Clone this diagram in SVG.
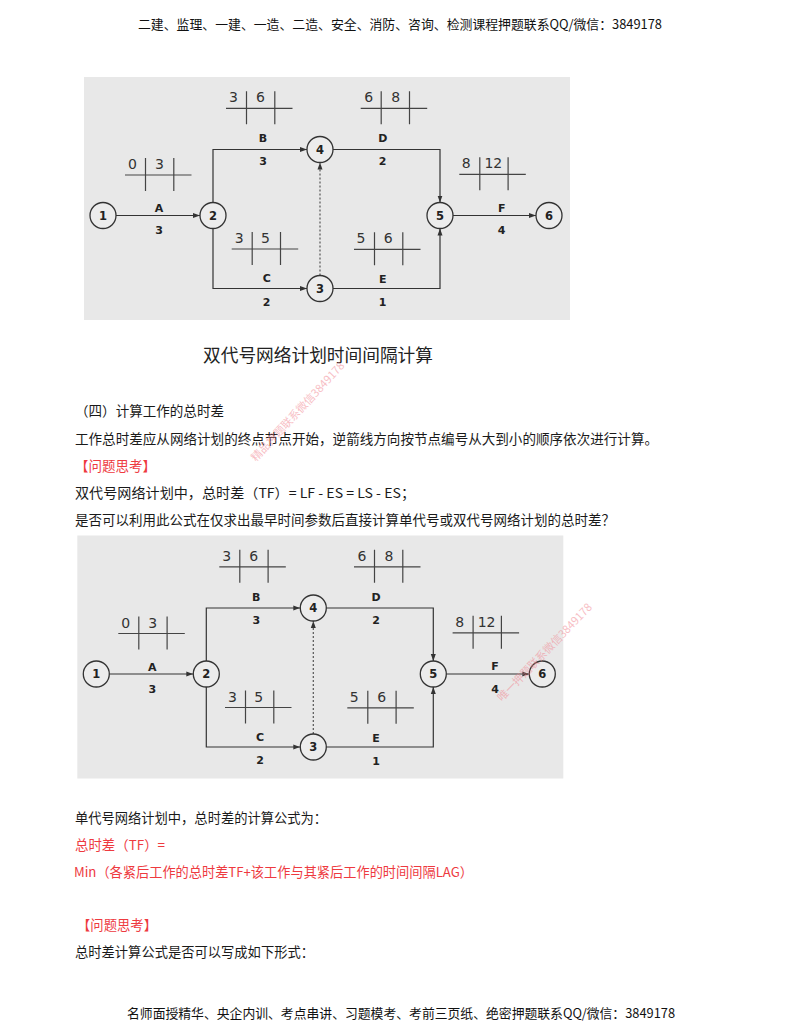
<svg xmlns="http://www.w3.org/2000/svg" xmlns:xlink="http://www.w3.org/1999/xlink" width="800" height="1035" viewBox="0 0 800 1035">
<style>
.hdr{font-family:"Noto Sans CJK SC","Noto Sans",sans-serif;font-size:13px;fill:#111}
.body{font-family:"Noto Sans CJK SC","Noto Sans",sans-serif;font-size:13.5px;fill:#1a1a1a}
.red{font-family:"Noto Sans CJK SC","Noto Sans",sans-serif;font-size:13.5px;fill:#ee3a3f}
.cap{font-family:"Noto Sans CJK SC","Noto Sans",sans-serif;font-size:17.7px;fill:#222}
.bg{fill:#e8e8e8}
.conn{fill:none;stroke:#333;stroke-width:1.2}
.dash{fill:none;stroke:#555;stroke-width:1.2;stroke-dasharray:2 2}
.node circle{fill:#ececec;stroke:#333;stroke-width:1.3}
.node text{font-family:"DejaVu Sans",sans-serif;font-weight:bold;font-size:11.5px;fill:#222;text-anchor:middle}
.lbl{font-family:"DejaVu Sans",sans-serif;font-weight:bold;font-size:11px;fill:#222;text-anchor:middle}
.tb{fill:none;stroke:#444;stroke-width:1.2}
.tn{font-family:"DejaVu Sans",sans-serif;font-size:14px;fill:#333;text-anchor:middle}
.wm{font-family:"Noto Sans CJK SC",sans-serif;font-size:11px;fill:#f28a94;opacity:0.55}
</style>
<defs>
<marker id="arr" markerUnits="userSpaceOnUse" markerWidth="7" markerHeight="6" refX="7" refY="3" orient="auto">
<path d="M0,0.5 L7,3 L0,5.5 z" fill="#333"/>
</marker>
<path id="tbx" class="tb" d="M0,0 H66.5 M20.5,-17 V16 M48.8,-17 V16"/>
</defs>

<text class="hdr" x="400" y="29" text-anchor="middle" textLength="524" lengthAdjust="spacingAndGlyphs">二建、监理、一建、一造、二造、安全、消防、咨询、检测课程押题联系QQ/微信：3849178</text>

<g id="network1">
<rect class="bg" x="84" y="77" width="486" height="243"/>
<g id="n1-connectors">
<path class="conn" d="M116,215.5 H200" marker-end="url(#arr)"/>
<path class="conn" d="M213,202.5 V149.5 H307" marker-end="url(#arr)"/>
<path class="conn" d="M213,228.5 V288.5 H307" marker-end="url(#arr)"/>
<path class="dash" d="M320,275.5 V162.5" marker-end="url(#arr)"/>
<path class="conn" d="M333,149.5 H440 V202.5" marker-end="url(#arr)"/>
<path class="conn" d="M333,288.5 H440 V228.5" marker-end="url(#arr)"/>
<path class="conn" d="M453,215.5 H536" marker-end="url(#arr)"/>
</g>
<g id="n1-labels">
<text class="lbl" x="159" y="212">A</text><text class="lbl" x="159" y="234">3</text>
<text class="lbl" x="263" y="142.3">B</text><text class="lbl" x="263" y="165">3</text>
<text class="lbl" x="266.7" y="282.3">C</text><text class="lbl" x="266.7" y="305.7">2</text>
<text class="lbl" x="382.7" y="142.3">D</text><text class="lbl" x="382.7" y="165">2</text>
<text class="lbl" x="382.7" y="283">E</text><text class="lbl" x="382.7" y="306">1</text>
<text class="lbl" x="501.7" y="211.7">F</text><text class="lbl" x="501.7" y="234">4</text>
</g>
<g id="n1-times">
<use xlink:href="#tbx" href="#tbx" x="125" y="175"/><text class="tn" x="132.5" y="169">0</text><text class="tn" x="159.5" y="169">3</text>
<use xlink:href="#tbx" href="#tbx" x="226" y="108.3"/><text class="tn" x="233.5" y="102.3">3</text><text class="tn" x="260.5" y="102.3">6</text>
<use xlink:href="#tbx" href="#tbx" x="231.7" y="249"/><text class="tn" x="239.2" y="243">3</text><text class="tn" x="265.5" y="243">5</text>
<use xlink:href="#tbx" href="#tbx" x="360.7" y="108.3"/><text class="tn" x="368.7" y="102.3">6</text><text class="tn" x="395.7" y="102.3">8</text>
<use xlink:href="#tbx" href="#tbx" x="354" y="249.3"/><text class="tn" x="361" y="243.3">5</text><text class="tn" x="388.3" y="243.3">6</text>
<use xlink:href="#tbx" href="#tbx" x="459.3" y="174.3"/><text class="tn" x="466.3" y="168.3">8</text><text class="tn" x="493.3" y="168.3">12</text>
</g>
<g id="n1-node1" class="node"><circle cx="103" cy="215.5" r="13"/><text x="103" y="219.8">1</text></g>
<g id="n1-node2" class="node"><circle cx="213" cy="215.5" r="13"/><text x="213" y="219.8">2</text></g>
<g id="n1-node4" class="node"><circle cx="320" cy="149.5" r="13"/><text x="320" y="153.8">4</text></g>
<g id="n1-node3" class="node"><circle cx="320" cy="288.5" r="13"/><text x="320" y="292.8">3</text></g>
<g id="n1-node5" class="node"><circle cx="440" cy="215.5" r="13"/><text x="440" y="219.8">5</text></g>
<g id="n1-node6" class="node"><circle cx="549" cy="215.5" r="13"/><text x="549" y="219.8">6</text></g>
</g>

<text class="cap" x="203" y="362" textLength="230" lengthAdjust="spacingAndGlyphs">双代号网络计划时间间隔计算</text>

<text class="body" x="75" y="416" textLength="149" lengthAdjust="spacingAndGlyphs">（四）计算工作的总时差</text>
<text class="body" x="75" y="444" textLength="583" lengthAdjust="spacingAndGlyphs">工作总时差应从网络计划的终点节点开始，逆箭线方向按节点编号从大到小的顺序依次进行计算。</text>
<text class="red" x="75" y="471" textLength="81" lengthAdjust="spacingAndGlyphs">【问题思考】</text>
<text class="body" x="75" y="498" textLength="340" lengthAdjust="spacingAndGlyphs">双代号网络计划中，总时差（TF）= LF - ES = LS - ES；</text>
<text class="body" x="75" y="525" textLength="540" lengthAdjust="spacingAndGlyphs">是否可以利用此公式在仅求出最早时间参数后直接计算单代号或双代号网络计划的总时差？</text>

<g id="network2" transform="translate(-6.7,458.5)">
<rect class="bg" x="84" y="77" width="486" height="243"/>
<g id="n2-connectors">
<path class="conn" d="M116,215.5 H200" marker-end="url(#arr)"/>
<path class="conn" d="M213,202.5 V149.5 H307" marker-end="url(#arr)"/>
<path class="conn" d="M213,228.5 V288.5 H307" marker-end="url(#arr)"/>
<path class="dash" d="M320,275.5 V162.5" marker-end="url(#arr)"/>
<path class="conn" d="M333,149.5 H440 V202.5" marker-end="url(#arr)"/>
<path class="conn" d="M333,288.5 H440 V228.5" marker-end="url(#arr)"/>
<path class="conn" d="M453,215.5 H536" marker-end="url(#arr)"/>
</g>
<g id="n2-labels">
<text class="lbl" x="159" y="212">A</text><text class="lbl" x="159" y="234">3</text>
<text class="lbl" x="263" y="142.3">B</text><text class="lbl" x="263" y="165">3</text>
<text class="lbl" x="266.7" y="282.3">C</text><text class="lbl" x="266.7" y="305.7">2</text>
<text class="lbl" x="382.7" y="142.3">D</text><text class="lbl" x="382.7" y="165">2</text>
<text class="lbl" x="382.7" y="283">E</text><text class="lbl" x="382.7" y="306">1</text>
<text class="lbl" x="501.7" y="211.7">F</text><text class="lbl" x="501.7" y="234">4</text>
</g>
<g id="n2-times">
<use xlink:href="#tbx" href="#tbx" x="125" y="175"/><text class="tn" x="132.5" y="169">0</text><text class="tn" x="159.5" y="169">3</text>
<use xlink:href="#tbx" href="#tbx" x="226" y="108.3"/><text class="tn" x="233.5" y="102.3">3</text><text class="tn" x="260.5" y="102.3">6</text>
<use xlink:href="#tbx" href="#tbx" x="231.7" y="249"/><text class="tn" x="239.2" y="243">3</text><text class="tn" x="265.5" y="243">5</text>
<use xlink:href="#tbx" href="#tbx" x="360.7" y="108.3"/><text class="tn" x="368.7" y="102.3">6</text><text class="tn" x="395.7" y="102.3">8</text>
<use xlink:href="#tbx" href="#tbx" x="354" y="249.3"/><text class="tn" x="361" y="243.3">5</text><text class="tn" x="388.3" y="243.3">6</text>
<use xlink:href="#tbx" href="#tbx" x="459.3" y="174.3"/><text class="tn" x="466.3" y="168.3">8</text><text class="tn" x="493.3" y="168.3">12</text>
</g>
<g id="n2-node1" class="node"><circle cx="103" cy="215.5" r="13"/><text x="103" y="219.8">1</text></g>
<g id="n2-node2" class="node"><circle cx="213" cy="215.5" r="13"/><text x="213" y="219.8">2</text></g>
<g id="n2-node4" class="node"><circle cx="320" cy="149.5" r="13"/><text x="320" y="153.8">4</text></g>
<g id="n2-node3" class="node"><circle cx="320" cy="288.5" r="13"/><text x="320" y="292.8">3</text></g>
<g id="n2-node5" class="node"><circle cx="440" cy="215.5" r="13"/><text x="440" y="219.8">5</text></g>
<g id="n2-node6" class="node"><circle cx="549" cy="215.5" r="13"/><text x="549" y="219.8">6</text></g>
</g>

<text class="body" x="75" y="823" textLength="252" lengthAdjust="spacingAndGlyphs">单代号网络计划中，总时差的计算公式为：</text>
<text class="red" x="75" y="850" textLength="90" lengthAdjust="spacingAndGlyphs">总时差（TF）=</text>
<text class="red" x="74" y="877" textLength="399" lengthAdjust="spacingAndGlyphs">Min（各紧后工作的总时差TF+该工作与其紧后工作的时间间隔LAG）</text>
<text class="red" x="77" y="930" textLength="80" lengthAdjust="spacingAndGlyphs">【问题思考】</text>
<text class="body" x="75" y="957" textLength="239" lengthAdjust="spacingAndGlyphs">总时差计算公式是否可以写成如下形式：</text>

<text class="hdr" x="401" y="1018" text-anchor="middle" textLength="548" lengthAdjust="spacingAndGlyphs">名师面授精华、央企内训、考点串讲、习题模考、考前三页纸、绝密押题联系QQ/微信：3849178</text>

<text class="wm" transform="translate(256,462) rotate(-47)">精品押题联系微信3849178</text>
<text class="wm" transform="translate(502,702) rotate(-46)">唯一押题联系微信3849178</text>
</svg>
